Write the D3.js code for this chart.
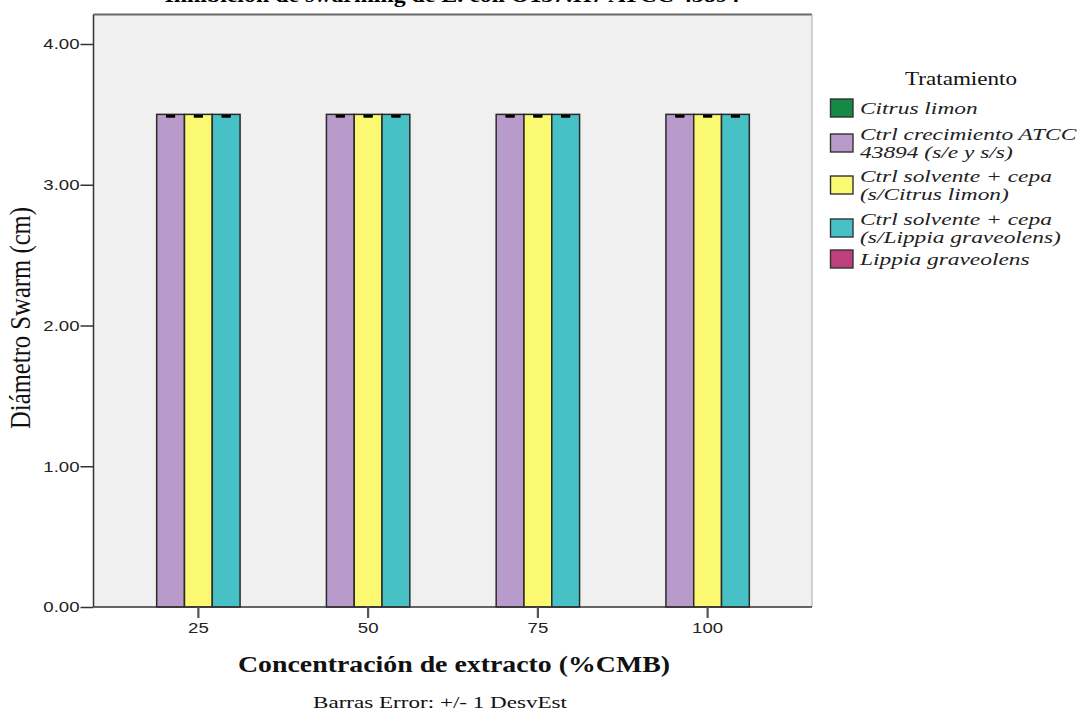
<!DOCTYPE html>
<html><head><meta charset="utf-8">
<script src="https://cdn.jsdelivr.net/npm/d3@7"></script>
<style>body{margin:0;background:#fff}svg{display:block}</style>
</head><body><svg id="c" width="1085" height="711"></svg>
<script>
const categories = ["25","50","75","100"];
const seriesNames = ["Citrus limon","Ctrl crecimiento ATCC 43894 (s/e y s/s)","Ctrl solvente + cepa (s/Citrus limon)","Ctrl solvente + cepa (s/Lippia graveolens)","Lippia graveolens"];
const legendLines = [["Citrus limon"],["Ctrl crecimiento ATCC","43894 (s/e y s/s)"],["Ctrl solvente + cepa","(s/Citrus limon)"],["Ctrl solvente + cepa","(s/Lippia graveolens)"],["Lippia graveolens"]];
const seriesColors = ["#148a46","#b89bcb","#fbf872","#48c1c6","#bd3f7e"];
// values per series per category (null = no data)
const citrusLimon = [null,null,null,null];
const ctrlCrecimiento = [3.5,3.5,3.5,3.5];
const ctrlSolventeCitrus = [3.5,3.5,3.5,3.5];
const ctrlSolventeLippia = [3.5,3.5,3.5,3.5];
const lippiaGraveolens = [null,null,null,null];
const errSD = [0,0,0,0];
const yTicks = [0,1,2,3,4];
const values = [citrusLimon, ctrlCrecimiento, ctrlSolventeCitrus, ctrlSolventeLippia, lippiaGraveolens];

const SERIF = "Liberation Serif, Times New Roman, serif";
const SANS = "Liberation Sans, Arial, sans-serif";
const SX = 1.2; // horizontal stretch of the reference rendering

function stretch(sel, target, factor){
  sel.each(function(){
    const len = this.getComputedTextLength();
    const t = target != null ? target : len*(factor||SX);
    d3.select(this).attr("textLength", t).attr("lengthAdjust","spacingAndGlyphs");
  });
  return sel;
}

const svg = d3.select("#c");
const plot = {l:93.5, r:812, t:14.5, b:607};
svg.append("rect").attr("x",plot.l).attr("y",plot.t).attr("width",plot.r-plot.l).attr("height",plot.b-plot.t).attr("fill","#f0f0f0");
svg.append("line").attr("x1",plot.l).attr("x2",plot.r).attr("y1",plot.t).attr("y2",plot.t).attr("stroke","#6a6a6a").attr("stroke-width",2);
svg.append("line").attr("x1",plot.r).attr("x2",plot.r).attr("y1",plot.t).attr("y2",plot.b).attr("stroke","#aaa").attr("stroke-width",1);

// title (cut off at the top edge, as in the reference)
stretch(svg.append("text").attr("x",452).attr("y",2).attr("text-anchor","middle")
  .attr("font-family",SERIF).attr("font-weight","bold").attr("font-size",20)
  .text("Inhibición de swarming de E. coli O157:H7 ATCC 43894"), 575);

const y = d3.scaleLinear().domain([0,4]).range([plot.b,44]);
const x = d3.scaleBand().domain(categories).range([113.5,792.5]);
const barW = 27.8;

categories.forEach((c,ci)=>{
  const present = seriesNames.map((s,si)=>si).filter(si=>values[si][ci]!=null);
  const mid = x(c)+x.bandwidth()/2;
  const sub = d3.scaleBand().domain(present).range([mid-barW*present.length/2, mid+barW*present.length/2]);
  present.forEach(si=>{
    const v = values[si][ci];
    svg.append("rect").attr("x",sub(si)).attr("y",y(v)).attr("width",sub.bandwidth()).attr("height",y(0)-y(v))
      .attr("fill",seriesColors[si]).attr("stroke","#2a2a2a").attr("stroke-width",1.5);
    const cx = sub(si)+sub.bandwidth()/2;
    const sd = errSD[ci];
    svg.append("line").attr("x1",cx).attr("x2",cx).attr("y1",y(v+sd)).attr("y2",y(v-sd)).attr("stroke","#000").attr("stroke-width",1.5);
    [v+sd,v-sd].forEach(e=>svg.append("line").attr("x1",cx-4.5).attr("x2",cx+4.5).attr("y1",y(e)+1.8).attr("y2",y(e)+1.8).attr("stroke","#000").attr("stroke-width",2.6));
  });
});

// axes
const yAxis = d3.axisLeft(y).tickValues(yTicks).tickFormat(d3.format(".2f")).tickSize(13).tickSizeOuter(0).tickPadding(1);
const gy = svg.append("g").attr("transform",`translate(${plot.l},0)`).call(yAxis);
gy.select(".domain").attr("d",`M0,${plot.t}V${plot.b}`).attr("stroke","#333").attr("stroke-width",1.5);
gy.selectAll(".tick line").attr("stroke","#333").attr("stroke-width",1.5);
stretch(gy.selectAll(".tick text").attr("font-family",SANS).attr("font-size",15.5).attr("fill","#222"));

const xAxis = d3.axisBottom(x).tickSize(11).tickSizeOuter(0).tickPadding(4);
const gx = svg.append("g").attr("transform",`translate(0,${plot.b})`).call(xAxis);
gx.select(".domain").attr("d",`M${plot.l},0H${plot.r}`).attr("stroke","#333").attr("stroke-width",1.5);
gx.selectAll(".tick line").attr("stroke","#555").attr("stroke-width",2.2);
stretch(gx.selectAll(".tick text").attr("font-family",SANS).attr("font-size",15.5).attr("fill","#222"));

// axis titles
const yl = svg.append("text").attr("transform",`translate(30,318) scale(${SX},1) rotate(-90)`).attr("text-anchor","middle")
  .attr("font-family",SERIF).attr("font-size",24).attr("fill","#111").text("Diámetro Swarm (cm)");
stretch(yl, 222);
stretch(svg.append("text").attr("x",454).attr("y",672).attr("text-anchor","middle")
  .attr("font-family",SERIF).attr("font-weight","bold").attr("font-size",23).attr("fill","#111")
  .text("Concentración de extracto (%CMB)"), 432);
stretch(svg.append("text").attr("x",440).attr("y",708).attr("text-anchor","middle")
  .attr("font-family",SERIF).attr("font-size",16).attr("fill","#111").text("Barras Error: +/- 1 DesvEst"), 254);

// legend
const lg = svg.append("g");
stretch(lg.append("text").attr("x",961).attr("y",85).attr("text-anchor","middle").attr("font-family",SERIF).attr("font-size",18).attr("fill","#111").text("Tratamiento"), 112);
const baselines = [[114],[140,158],[182,200],[225,243],[265]];
const LFS = 17;
seriesNames.forEach((s,i)=>{
  const b = baselines[i];
  const cy = (b[0]+b[b.length-1])/2 - 6;
  lg.append("rect").attr("x",830.5).attr("y",cy-9).attr("width",22.5).attr("height",18)
    .attr("fill",seriesColors[i]).attr("stroke","#333").attr("stroke-width",1.4);
  legendLines[i].forEach((t,j)=>{
    stretch(lg.append("text").attr("x",860).attr("y",b[j]).attr("font-family",SERIF).attr("font-style","italic")
      .attr("font-size",LFS).attr("fill","#222").text(t), null, SX*19.5/LFS);
  });
});
</script></body></html>
